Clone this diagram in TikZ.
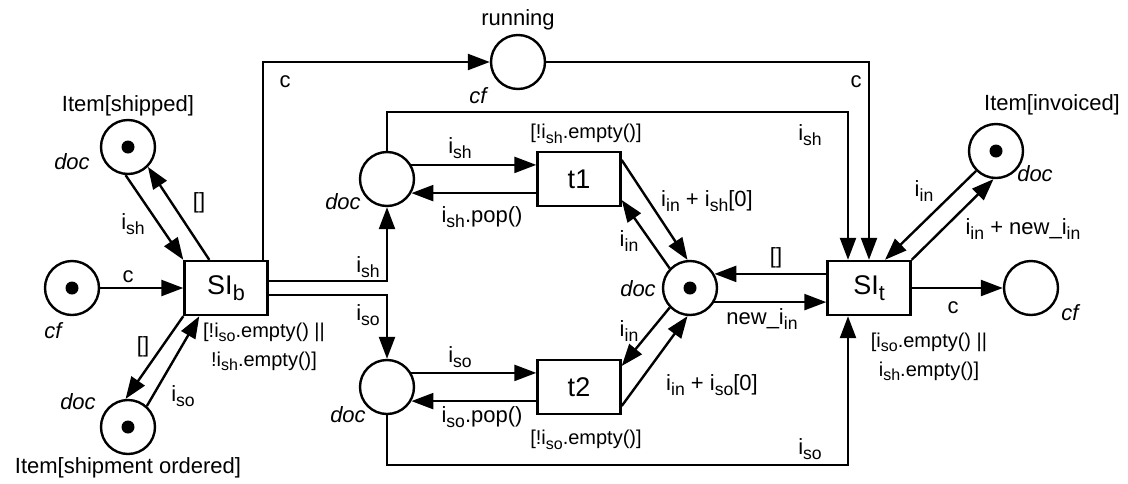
\documentclass[tikz,border=0pt]{standalone}
\usepackage{fontspec}
\setmainfont{Liberation Sans}
\usetikzlibrary{arrows.meta}
\makeatletter
\newcommand{\lowsub}[1]{\raisebox{-0.23em}{\fontsize{\fpeval{0.8*\f@size}}{0}\selectfont #1}}
\makeatother
\newcommand{\isub}[1]{i\lowsub{#1}}
\tikzset{
    place/.style={circle, draw, line width=2.4pt, minimum size=54pt, inner sep=0pt},
    trans/.style={rectangle, draw, line width=2.4pt, minimum width=83pt, minimum height=54pt, font=\fontsize{27}{30}\selectfont},
    tok/.style={circle, fill=black, minimum size=13pt, inner sep=0pt},
    arc/.style={line width=2.4pt, -{Triangle[length=22pt,width=16pt]}},
    lbl/.style={font=\fontsize{22}{26}\selectfont, inner sep=0pt},
    typ/.style={font=\fontsize{22}{26}\selectfont\itshape, inner sep=0pt},
    guard/.style={font=\fontsize{20}{29}\selectfont, align=center, inner sep=0pt}
}
\begin{document}
\begin{tikzpicture}[x=1pt, y=-1pt]
        \useasboundingbox (0,0) rectangle (1128,483);

        % Posti
        \node[place] (shp) at (128,147) {};
        \node[place] (cfs) at (72,288) {};
        \node[place] (sho) at (128,427) {};
        \node[place] (run) at (518,62) {};
        \node[place] (psh) at (387,179) {};
        \node[place] (pso) at (387,387) {};
        \node[place] (pin) at (690,288) {};
        \node[place] (inv) at (996,151) {};
        \node[place] (cfe) at (1031,288) {};

        % Gettoni
        \node[tok] (tshp) at (shp) {};
        \node[tok] (tcfs) at (cfs) {};
        \node[tok] (tsho) at (sho) {};
        \node[tok] (tpin) at (pin) {};
        \node[tok] (tinv) at (inv) {};

        % Transizioni
        \node[trans] (SIb) at (226,288) {SI\lowsub{b}};
        \node[trans] (t1) at (579,179) {t1};
        \node[trans] (t2) at (579,387) {t2};
        \node[trans] (SIt) at (869,288) {SI\lowsub{t}};

        % Nomi e tipi dei posti
        \node[lbl] (nshp) at (128,106) {Item[shipped]};
        \node[lbl] (nsho) at (128,468) {Item[shipment ordered]};
        \node[lbl] (nrun) at (518,20) {running};
        \node[lbl] (ninv) at (1052,105) {Item[invoiced]};
        \node[typ] (yshp) at (72,162) {doc};
        \node[typ] (ycfs) at (53,331) {cf};
        \node[typ] (ysho) at (78,402) {doc};
        \node[typ] (yrun) at (478,96) {cf};
        \node[typ] (ypsh) at (343,202) {doc};
        \node[typ] (ypso) at (348,415) {doc};
        \node[typ] (ypin) at (638,289) {doc};
        \node[typ] (yinv) at (1035,174) {doc};
        \node[typ] (ycfe) at (1070,313) {cf};

        % Guardie
        \node[guard] (gSIb) at (264,347) {[!\isub{so}.empty() ||\\!\isub{sh}.empty()]};
        \node[guard] (gt1) at (586,134) {[!\isub{sh}.empty()]};
        \node[guard] (gt2) at (586,440) {[!\isub{so}.empty()]};
        \node[guard] (gSIt) at (929,357) {[\isub{so}.empty() ||\\\isub{sh}.empty()]};

        % Archi di SI_b
        \draw[arc] (shp.-95) -- (SIb.north west);
        \draw[arc] ([xshift=26pt]SIb.north west) -- (shp.-45);
        \draw[arc] (cfs) -- (SIb);
        \draw[arc] (SIb.south west) -- (sho.95);
        \draw[arc] (sho.48) -- ([xshift=16pt]SIb.south west);
        \draw[arc] ([yshift=7pt]SIb.east) -| (psh);
        \draw[arc] ([yshift=-7pt]SIb.east) -| (pso);
        \draw[arc] ([xshift=-6pt]SIb.north east) |- (run);
        \draw[arc] (run) -| (SIt);
        \node[lbl] (lshp) at (133,224) {\isub{sh}};
        \node[lbl] (lshpb) at (199,203) {[]};
        \node[lbl] (lcfs) at (128,277) {c};
        \node[lbl] (lsho) at (143,347) {[]};
        \node[lbl] (lshob) at (183,396) {\isub{so}};
        \node[lbl] (lpsh) at (368,267) {\isub{sh}};
        \node[lbl] (lpso) at (368,315) {\isub{so}};
        \node[lbl] (lrun) at (285,82) {c};
        \node[lbl] (lrunb) at (856,82) {c};

        % Archi di t1 e t2
        \draw[arc] (psh.30) -- (psh.30 -| t1.west);
        \draw[arc] (t1.west |- psh.-30) -- (psh.-30);
        \draw[arc] (pso.30) -- (pso.30 -| t2.west);
        \draw[arc] (t2.west |- pso.-30) -- (pso.-30);
        \draw[arc] ([yshift=19pt]t1.east) -- (pin.95);
        \draw[arc] (pin.136) -- ([yshift=-21pt]t1.east);
        \draw[arc] (pin.224) -- ([yshift=21pt]t2.east);
        \draw[arc] ([yshift=-19pt]t2.east) -- (pin.265);
        \node[lbl] (lt1a) at (460,148) {\isub{sh}};
        \node[lbl] (lt1b) at (482,217) {\isub{sh}.pop()};
        \node[lbl] (lt2a) at (460,357) {\isub{so}};
        \node[lbl] (lt2b) at (482,417) {\isub{so}.pop()};
        \node[lbl] (lt1c) at (707,201) {\isub{in} + \isub{sh}[0]};
        \node[lbl] (lt1d) at (629,241) {\isub{in}};
        \node[lbl] (lt2d) at (629,331) {\isub{in}};
        \node[lbl] (lt2c) at (712,385) {\isub{in} + \isub{so}[0]};

        % Archi di SI_t
        \coordinate (topsh) at (848,112);
        \coordinate (botso) at (848,465);
        \draw[arc] (psh) |- (topsh) -- (topsh |- SIt.north);
        \draw[arc] (pso) |- (botso) -- (botso |- SIt.south);
        \draw[arc] (SIt.west |- pin.30) -- (pin.30);
        \draw[arc] (pin.-30) -- (pin.-30 -| SIt.west);
        \draw[arc] (SIt.north east) -- (inv.265);
        \draw[arc] (inv.225) -- ([xshift=16pt]SIt.north);
        \draw[arc] (SIt) -- (cfe);
        \node[lbl] (lpin) at (776,258) {[]};
        \node[lbl] (lpinb) at (762,319) {new\_\isub{in}};
        \node[lbl] (ltop) at (810,135) {\isub{sh}};
        \node[lbl] (lbot) at (810,449) {\isub{so}};
        \node[lbl] (linv) at (924,191) {\isub{in}};
        \node[lbl] (linvb) at (1023,229) {\isub{in} + new\_\isub{in}};
        \node[lbl] (lcfe) at (953,308) {c};
    \end{tikzpicture}
\end{document}
